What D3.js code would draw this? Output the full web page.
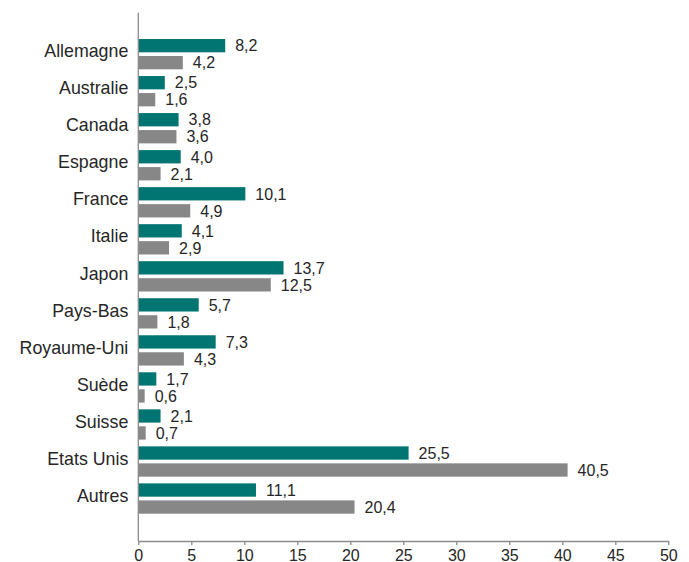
<!DOCTYPE html>
<html>
<head>
<meta charset="utf-8">
<script src="https://cdn.jsdelivr.net/npm/d3@7/dist/d3.min.js"></script>
<style>
  html, body { margin: 0; padding: 0; background: #ffffff; }
  svg { display: block; }
</style>
</head>
<body>
<svg id="chart" width="689" height="562"></svg>
<script>
const categories = ["Allemagne", "Australie", "Canada", "Espagne", "France", "Italie", "Japon",
  "Pays-Bas", "Royaume-Uni", "Suède", "Suisse", "Etats Unis", "Autres"];
const seriesTeal = [8.2, 2.5, 3.8, 4.0, 10.1, 4.1, 13.7, 5.7, 7.3, 1.7, 2.1, 25.5, 11.1];
const seriesGrey = [4.2, 1.6, 3.6, 2.1, 4.9, 2.9, 12.5, 1.8, 4.3, 0.6, 0.7, 40.5, 20.4];
const xTicks = [0, 5, 10, 15, 20, 25, 30, 35, 40, 45, 50];

const svg = d3.select("#chart");
const font = "'Liberation Sans', Arial, sans-serif";
const textColor = "#262626";
const axisColor = "#8c8c8c";

const x = d3.scaleLinear().domain([0, 50]).range([138.3, 668.3]);
const y = d3.scaleBand().domain(categories).range([35.7, 517.1]).padding(0);
const axisTop = 12.7, axisBottom = 541;
const barH = 13.3;

const fmt = v => d3.format(".1f")(v).replace(".", ",");

const groups = svg.append("g").selectAll("g").data(categories).join("g")
  .attr("transform", d => `translate(0,${y(d) + y.bandwidth() / 2})`);

// teal bars
groups.append("rect")
  .attr("x", x(0))
  .attr("y", -15.2)
  .attr("width", (d, i) => x(seriesTeal[i]) - x(0))
  .attr("height", barH)
  .attr("fill", "#007571");

// grey bars
groups.append("rect")
  .attr("x", x(0))
  .attr("y", 1.8)
  .attr("width", (d, i) => x(seriesGrey[i]) - x(0))
  .attr("height", barH)
  .attr("fill", "#878787");

// value labels
groups.append("text")
  .attr("x", (d, i) => x(seriesTeal[i]) + 10)
  .attr("y", -15.2 + barH / 2)
  .attr("dy", "0.36em")
  .attr("font-family", font).attr("font-size", 16).attr("fill", textColor)
  .text((d, i) => fmt(seriesTeal[i]));

groups.append("text")
  .attr("x", (d, i) => x(seriesGrey[i]) + 10)
  .attr("y", 1.8 + barH / 2)
  .attr("dy", "0.36em")
  .attr("font-family", font).attr("font-size", 16).attr("fill", textColor)
  .text((d, i) => fmt(seriesGrey[i]));

// category labels
groups.append("text")
  .attr("x", x(0) - 10)
  .attr("y", 3.1)
  .attr("text-anchor", "end")
  .attr("font-family", font).attr("font-size", 17.8).attr("fill", textColor)
  .text(d => d);

// y axis line
svg.append("line")
  .attr("x1", x(0)).attr("x2", x(0))
  .attr("y1", axisTop).attr("y2", axisBottom)
  .attr("stroke", axisColor).attr("stroke-width", 1.3);

// x axis
const xAxis = d3.axisBottom(x).tickValues(xTicks).tickSize(4).tickSizeOuter(0)
  .tickFormat(d3.format("d"));
const gx = svg.append("g").attr("transform", `translate(0,${axisBottom})`).call(xAxis);
gx.select(".domain").attr("stroke", axisColor).attr("stroke-width", 1.5);
gx.selectAll(".tick line").attr("stroke", axisColor).attr("stroke-width", 1.3);
gx.selectAll(".tick text")
  .attr("font-family", font).attr("font-size", 16).attr("fill", textColor)
  .attr("y", 19.5).attr("dy", 0);
</script>
</body>
</html>
